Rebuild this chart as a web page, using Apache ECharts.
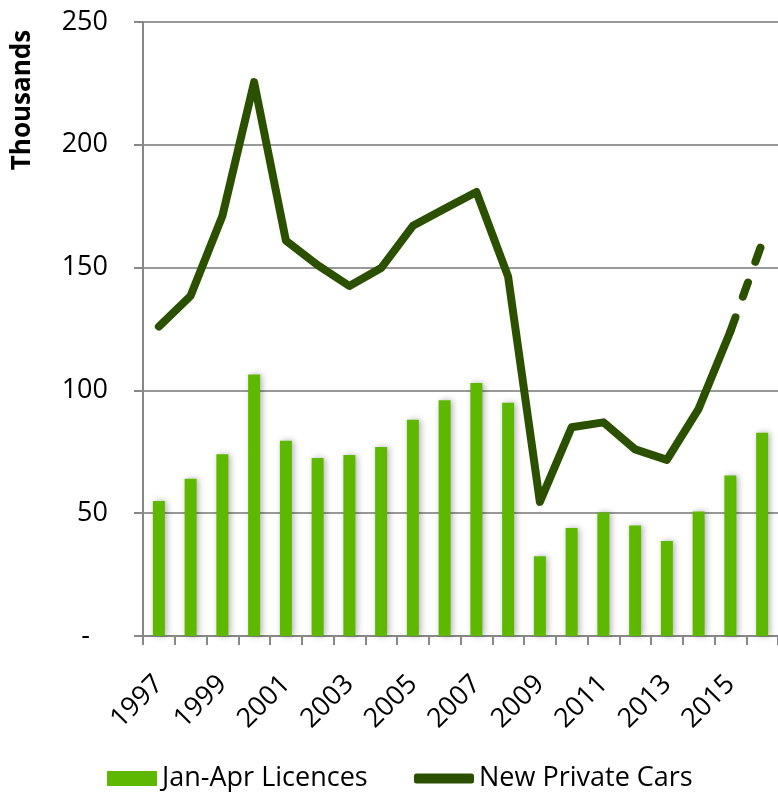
<!DOCTYPE html>
<html>
<head>
<meta charset="utf-8">
<script src="https://cdn.jsdelivr.net/npm/echarts@6/dist/echarts.min.js"></script>
<style>
  html, body { margin: 0; padding: 0; background: #fff; }
  #chart { width: 778px; height: 792px; }
</style>
</head>
<body>
<div id="chart"></div>
<script>
// 年份
var years = ['1997', '1998', '1999', '2000', '2001', '2002', '2003', '2004', '2005', '2006',
             '2007', '2008', '2009', '2010', '2011', '2012', '2013', '2014', '2015', '2016'];
// Jan-Apr licences (thousands)
var licences = [55, 64, 74, 106.5, 79.5, 72.5, 73.7, 77, 88, 96,
                103, 95, 32.5, 44, 50.3, 45, 38.7, 50.7, 65.3, 82.8];
// new private cars (thousands), 2016 is the estimate drawn dashed
var cars = [126, 138.5, 171, 225.5, 161, 151, 142.5, 149.8, 167, 174,
            180.8, 146.3, 54.6, 85, 87, 76, 71.7, 92.5, 124, '-'];
var carsEstimate = ['-', '-', '-', '-', '-', '-', '-', '-', '-', '-',
                    '-', '-', '-', '-', '-', '-', '-', '-', 124, 160];
var yTicks = [0, 50, 100, 150, 200, 250];

var barColor = '#5eb800';
var lineColor = '#2b5000';
var font = 'Open Sans';
var fs = 27;

var myChart = echarts.init(document.getElementById('chart'));
myChart.setOption({
    animation: false,
    textStyle: { fontFamily: font },
    grid: { left: 143, top: 22, right: -5, bottom: 156 },
    graphic: [
        {
            type: 'text',
            x: 23, y: 100,
            rotation: Math.PI / 2,
            style: {
                text: 'Thousands',
                font: 'bold 26px "Open Sans"',
                fill: '#000',
                align: 'center',
                verticalAlign: 'middle'
            }
        }
    ],
    legend: [
        {
            data: ['Jan-Apr Licences'],
            left: 102, top: 760,
            icon: 'rect', itemWidth: 50, itemHeight: 15,
            textStyle: { fontSize: fs, color: '#000', fontFamily: font }
        },
        {
            data: ['New Private Cars'],
            left: 409, top: 760,
            icon: 'roundRect', itemWidth: 60, itemHeight: 10,
            textStyle: { fontSize: fs, color: '#000', fontFamily: font }
        }
    ],
    xAxis: {
        type: 'category',
        data: years,
        boundaryGap: true,
        axisLine: { lineStyle: { color: '#888', width: 2 } },
        axisTick: { show: true, interval: 0, length: 9, lineStyle: { color: '#888', width: 2 } },
        axisLabel: {
            interval: 1, rotate: 45, margin: 44,
            padding: [12, 0, 0, 0],
            fontSize: fs, color: '#000', fontFamily: font
        }
    },
    yAxis: {
        type: 'value',
        min: yTicks[0], max: yTicks[yTicks.length - 1], interval: 50,
        axisLine: { show: true, lineStyle: { color: '#888', width: 2 } },
        axisTick: { show: true, length: 9, lineStyle: { color: '#888', width: 2 } },
        splitLine: { lineStyle: { color: '#999', width: 2 } },
        axisLabel: {
            margin: 35, fontSize: fs, color: '#000', fontFamily: font,
            formatter: function (v) { return v === 0 ? '{d|-}' : String(v); },
            rich: { d: { fontSize: fs, padding: [0, 18, 0, 0], fontFamily: font } }
        }
    },
    series: [
        {
            name: 'Jan-Apr Licences',
            type: 'bar',
            data: licences,
            barWidth: 12,
            itemStyle: {
                color: barColor,
                shadowBlur: 6, shadowColor: 'rgba(0,0,0,0.3)', shadowOffsetX: 2
            }
        },
        {
            name: 'New Private Cars',
            type: 'line',
            data: cars,
            symbol: 'none',
            itemStyle: { color: lineColor },
            lineStyle: { color: lineColor, width: 8, cap: 'round', join: 'round' },
            z: 3
        },
        {
            name: 'New Private Cars',
            type: 'line',
            data: carsEstimate,
            symbol: 'none',
            itemStyle: { color: lineColor },
            lineStyle: { color: lineColor, width: 8, cap: 'round', type: [15, 22] },
            z: 3
        }
    ]
});
</script>
</body>
</html>
